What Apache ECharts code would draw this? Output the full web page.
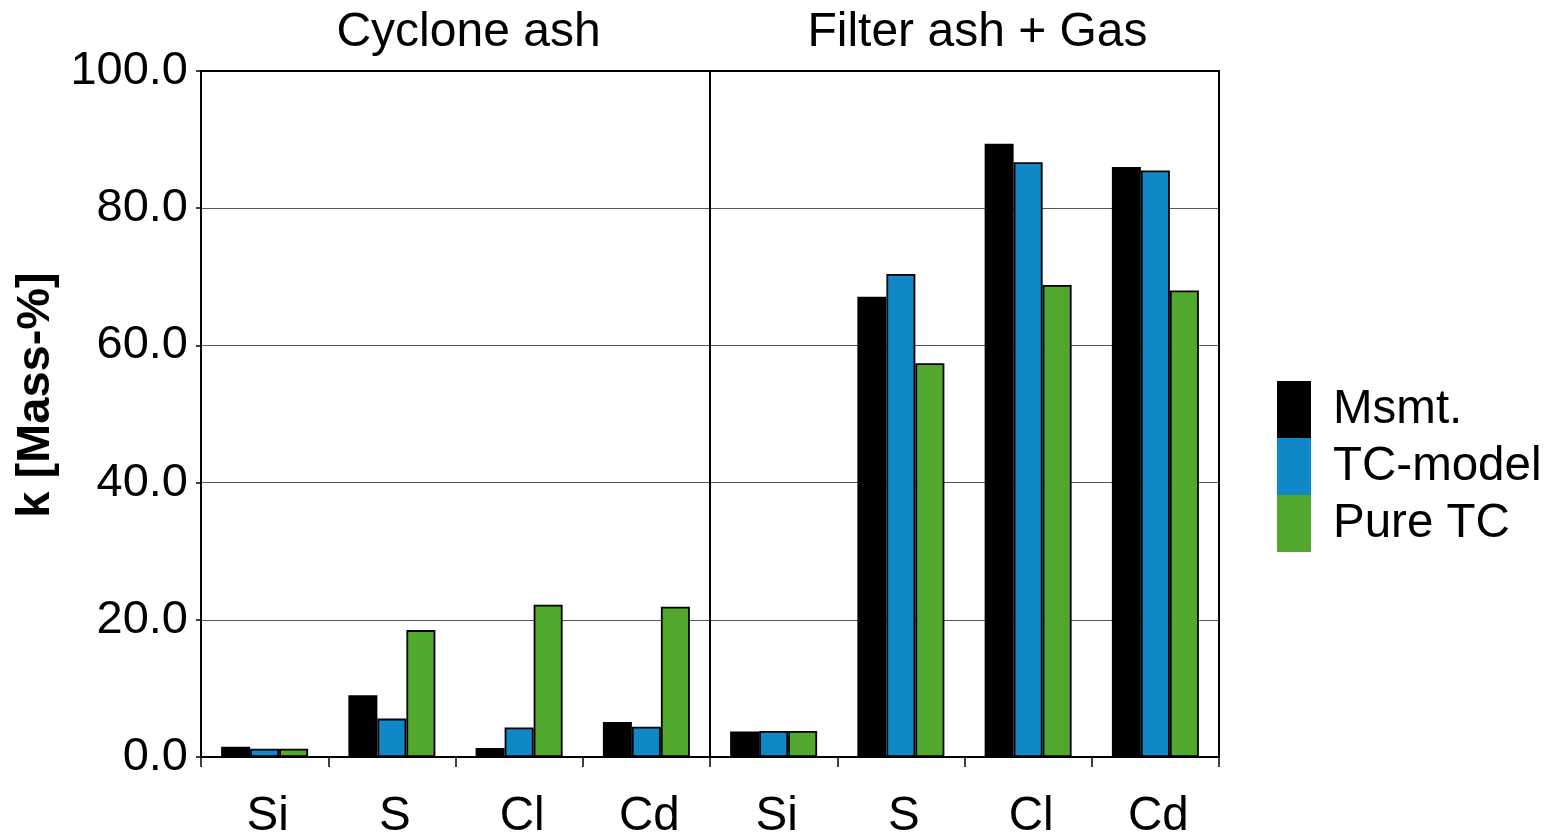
<!DOCTYPE html>
<html>
<head>
<meta charset="utf-8">
<script src="https://cdn.jsdelivr.net/npm/echarts@6/dist/echarts.min.js"></script>
<style>html,body{margin:0;padding:0;background:#fff;}#c{width:1558px;height:840px;}</style>
</head>
<body>
<div id="c"></div>
<script>
const categories = ['Si', 'S', 'Cl', 'Cd', 'Si', 'S', 'Cl', 'Cd'];
const groups = ['Cyclone ash', 'Filter ash + Gas'];
const yTicks = [0, 20, 40, 60, 80, 100];
const msmt = [1.5, 9.0, 1.3, 5.1, 3.7, 67.1, 89.4, 86.0];
const tcModel = [1.2, 5.6, 4.3, 4.4, 3.8, 70.4, 86.7, 85.5];
const pureTC = [1.2, 18.5, 22.2, 21.9, 3.8, 57.4, 68.8, 68.0];
const seriesNames = ['Msmt.', 'TC-model', 'Pure TC'];

const FONT = '"Liberation Sans", Arial, sans-serif';
const colors = ['#000000', '#1087C6', '#52A82E'];
const chart = echarts.init(document.getElementById('c'), null, {renderer: 'canvas'});
const mk = (name, data, i) => ({
  name: name, type: 'bar', data: data, xAxisIndex: 0, yAxisIndex: 0,
  barWidth: 29, barGap: '0%',
  itemStyle: {color: colors[i], borderColor: '#000', borderWidth: 1.8},
  emphasis: {disabled: true}, animation: false
});
chart.setOption({
  animation: false,
  textStyle: {fontFamily: FONT},
  grid: {left: 201, right: 339, top: 71, bottom: 83, show: true, borderColor: '#000', borderWidth: 2,
         backgroundColor: 'transparent', containLabel: false, outerBoundsMode: 'none'},
  legend: {
    orient: 'vertical', left: 1277, top: 381, padding: 0,
    itemWidth: 34, itemHeight: 57, itemGap: 0, icon: 'rect',
    itemStyle: {borderWidth: 0},
    selectedMode: false,
    textStyle: {fontFamily: FONT, fontSize: 47.5, color: '#000', padding: [0, 0, 0, 17]},
    data: seriesNames
  },
  xAxis: [{
    type: 'category', data: categories, position: 'bottom',
    axisLine: {show: true, lineStyle: {color: '#000', width: 2}},
    axisTick: {show: true, interval: 0, length: 10, lineStyle: {color: '#000', width: 1.5}},
    axisLabel: {interval: 0, fontSize: 47.5, color: '#000', margin: 36, fontFamily: FONT, padding: [0, 0, 0, 6]},
    splitLine: {show: false}
  }, {
    type: 'category', data: groups, position: 'top',
    axisLine: {show: true, lineStyle: {color: '#000', width: 2}},
    axisTick: {show: false},
    axisLabel: {interval: 0, fontSize: 48, color: '#000', margin: 14, fontFamily: FONT, padding: [0, 0, 0, 26]},
    splitLine: {show: true, interval: 0, lineStyle: {color: '#000', width: 2}}
  }],
  yAxis: [{
    type: 'value', min: yTicks[0], max: yTicks[yTicks.length - 1], interval: 20,
    name: 'k [Mass-%]', nameLocation: 'middle', nameGap: 138, nameRotate: 90,
    nameTextStyle: {fontSize: 47, fontWeight: 'bold', color: '#000', fontFamily: FONT, padding: [0, 0, 0, 38]},
    axisLine: {show: true, lineStyle: {color: '#000', width: 2}},
    axisTick: {show: true, length: 5, lineStyle: {color: '#000', width: 1.5}},
    axisLabel: {fontSize: 47, color: '#000', margin: 13, fontFamily: FONT, formatter: v => v.toFixed(1)},
    splitLine: {show: true, lineStyle: {color: '#555', width: 1}}
  }],
  series: [mk(seriesNames[0], msmt, 0), mk(seriesNames[1], tcModel, 1), mk(seriesNames[2], pureTC, 2)]
});
</script>
</body>
</html>
